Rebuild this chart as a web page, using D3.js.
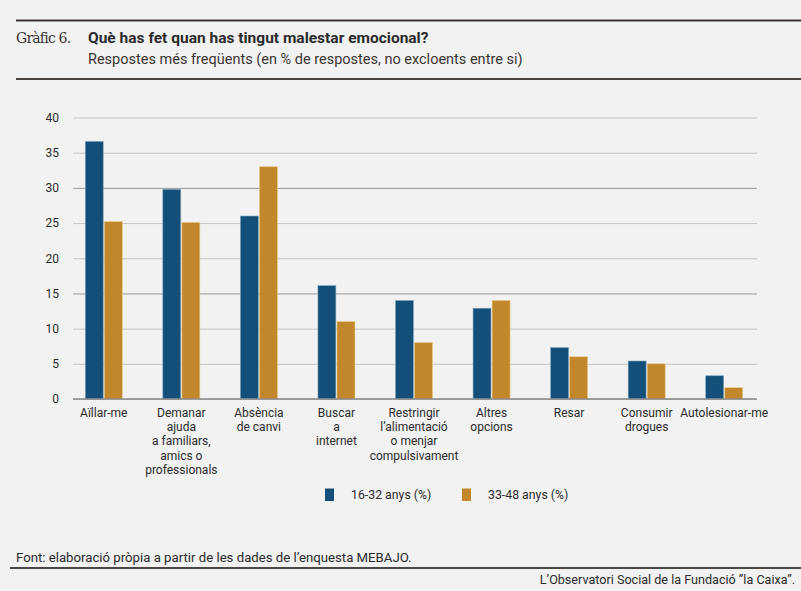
<!DOCTYPE html>
<html>
<head>
<meta charset="utf-8">
<script src="https://cdn.jsdelivr.net/npm/d3@7"></script>
<style>
  html, body { margin: 0; padding: 0; background: #f2f2f2; }
  svg { display: block; }
  text { font-family: Roboto, "Noto Sans", sans-serif; fill: #2b2b2b; }
</style>
</head>
<body>
<svg id="chart" width="801" height="591"></svg>
<script>
// categories (each label split in lines as in the original)
const categories = [
  ['Aïllar-me'],
  ['Demanar', 'ajuda', 'a familiars,', 'amics o', 'professionals'],
  ['Absència', 'de canvi'],
  ['Buscar', 'a', 'internet'],
  ['Restringir', 'l’alimentació', 'o menjar', 'compulsivament'],
  ['Altres', 'opcions'],
  ['Resar'],
  ['Consumir', 'drogues'],
  ['Autolesionar-me']
];
const seriesNames = ['16-32 anys (%)', '33-48 anys (%)'];
const young = [36.6, 29.8, 26.0, 16.1, 14.0, 12.9, 7.3, 5.4, 3.3];
const older = [25.2, 25.1, 33.0, 11.0, 8.0, 14.0, 6.0, 5.0, 1.6];
const yTicks = [0, 5, 10, 15, 20, 25, 30, 35, 40];
const colors = ['#134f78', '#c1872a'];
const strokes = ['#7fa6c2', '#e8c88a'];

const svg = d3.select('#chart');
const width = 801;

// header
svg.append('line')
  .attr('x1', 16).attr('x2', width).attr('y1', 20.5).attr('y2', 20.5)
  .attr('stroke', '#3a3533').attr('stroke-width', 2);
svg.append('text')
  .attr('x', 16).attr('y', 43)
  .style('font-family', '"DejaVu Serif", "Liberation Serif", serif')
  .style('font-size', '14px')
  .style('fill', '#3a3533')
  .style('letter-spacing', '-0.8px')
  .text('Gràfic 6.');
svg.append('text')
  .attr('x', 88).attr('y', 43)
  .style('font-size', '15.5px')
  .style('font-weight', 'bold')
  .text('Què has fet quan has tingut malestar emocional?');
svg.append('text')
  .attr('x', 88).attr('y', 64)
  .style('font-size', '14.5px')
  .style('fill', '#3a3533')
  .text('Respostes més freqüents (en % de respostes, no excloents entre si)');
svg.append('line')
  .attr('x1', 16).attr('x2', width).attr('y1', 79).attr('y2', 79)
  .attr('stroke', '#4a4644').attr('stroke-width', 2);

// scales
const x0 = d3.scaleBand()
  .domain(d3.range(categories.length))
  .range([65, 763]);
const x1 = d3.scaleBand()
  .domain([0, 1])
  .range([x0.bandwidth() / 2 - 18.5, x0.bandwidth() / 2 + 18.5])
  .paddingInner(0.06);
const y = d3.scaleLinear()
  .domain([0, 40])
  .range([399, 117.5]);

// grid + y labels
const yAxis = d3.axisLeft(y)
  .tickValues(yTicks)
  .tickSize(-(757 - 73))
  .tickPadding(14);
const yAxisG = svg.append('g')
  .attr('class', 'y-axis')
  .attr('transform', 'translate(73,0)')
  .call(yAxis);
yAxisG.select('.domain').remove();
yAxisG.selectAll('.tick line')
  .attr('stroke', (d, i) => i === 3 || i === 6 ? '#999' : '#c4c4c4')
  .attr('stroke-width', 1);
yAxisG.selectAll('.tick text')
  .style('font-size', '12px')
  .style('font-family', 'Roboto, sans-serif')
  .attr('fill', '#2b2b2b');

// bars
const groups = svg.append('g').selectAll('.group')
  .data(categories.map((c, i) => [young[i], older[i]]))
  .join('g')
    .attr('class', 'group')
    .attr('transform', (d, i) => `translate(${x0(i)},0)`);
groups.selectAll('rect')
  .data(d => d)
  .join('rect')
    .attr('x', (d, j) => x1(j))
    .attr('width', x1.bandwidth())
    .attr('y', d => y(d))
    .attr('height', d => y(0) - y(d))
    .attr('fill', (d, j) => colors[j])
    .attr('stroke', (d, j) => strokes[j])
    .attr('stroke-width', 0.6);

// baseline
svg.append('line')
  .attr('x1', 73).attr('x2', 757)
  .attr('y1', y(0)).attr('y2', y(0))
  .attr('stroke', '#888').attr('stroke-width', 1.6);

// category labels
const catLabels = svg.append('g').selectAll('text')
  .data(categories)
  .join('text')
    .attr('text-anchor', 'middle')
    .attr('x', (d, i) => x0(i) + x0.bandwidth() / 2)
    .attr('y', 417)
    .style('font-size', '12px');
catLabels.selectAll('tspan')
  .data(d => d)
  .join('tspan')
    .attr('x', function () { return d3.select(this.parentNode).attr('x'); })
    .attr('dy', (d, i) => i === 0 ? 0 : 14.2)
    .text(d => d);

// legend
const legendX = [325, 462];
const legend = svg.append('g').selectAll('g')
  .data(seriesNames)
  .join('g')
    .attr('transform', (d, i) => `translate(${legendX[i]},488.5)`);
legend.append('rect')
  .attr('width', 9).attr('height', 12.5)
  .attr('fill', (d, i) => colors[i]);
legend.append('text')
  .attr('x', 26).attr('y', 10.5)
  .style('font-size', '12.3px')
  .text(d => d);

// footer
svg.append('text')
  .attr('x', 16).attr('y', 562)
  .style('font-size', '13.2px')
  .text('Font: elaboració pròpia a partir de les dades de l’enquesta MEBAJO.');
svg.append('line')
  .attr('x1', 10).attr('x2', width).attr('y1', 568).attr('y2', 568)
  .attr('stroke', '#4a4644').attr('stroke-width', 2);
svg.append('text')
  .attr('x', 795).attr('y', 584)
  .attr('text-anchor', 'end')
  .style('font-size', '12.6px')
  .text('L’Observatori Social de la Fundació ”la Caixa”.');
</script>
</body>
</html>
